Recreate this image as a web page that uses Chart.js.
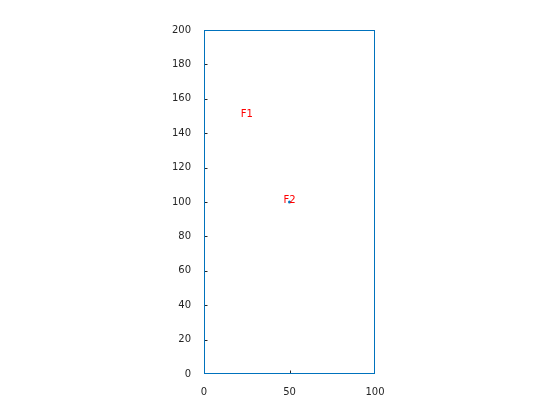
<!DOCTYPE html>
<html>
<head>
<meta charset="utf-8">
<script src="https://cdn.jsdelivr.net/npm/chart.js@4"></script>
<style>
  html, body { margin: 0; padding: 0; background: #fff; }
  #wrap { width: 560px; height: 420px; }
</style>
</head>
<body>
<div id="wrap"><canvas id="c1" width="560" height="420"></canvas></div>
<script>
"use strict";

// outline of the region, drawn as a line
let boxX = [0, 100, 100, 0, 0];
let boxY = [0, 0, 200, 200, 0];

// marked point
let ptX = [50];
let ptY = [100];

// text labels
let labNames = ['F1', 'F2'];
let labX = [21.5, 46.5];
let labY = [151, 101];

let xTicks = [0, 50, 100];
let yTicks = [0, 20, 40, 60, 80, 100, 120, 140, 160, 180, 200];

let fontName = '"DejaVu Sans", sans-serif';

// inside tick marks (left and bottom only), under the blue outline
let tickMarks = {
    id: 'tickMarks',
    beforeDatasetsDraw(chart) {
        let ctx = chart.ctx;
        let xs = chart.scales.x;
        let ys = chart.scales.y;
        let a = chart.chartArea;
        ctx.save();
        ctx.strokeStyle = '#262626';
        ctx.lineWidth = 1;
        ctx.beginPath();
        xTicks.forEach(v => {
            let px = Math.round(xs.getPixelForValue(v)) + 0.5;
            if (px < a.left + 2 || px > a.right - 2) return; // hidden by outline
            ctx.moveTo(px, a.bottom); ctx.lineTo(px, a.bottom - 3.5);
        });
        yTicks.forEach(v => {
            let py = Math.round(ys.getPixelForValue(v)) + 0.5;
            if (py < a.top + 2 || py > a.bottom - 2) return;
            ctx.moveTo(a.left, py); ctx.lineTo(a.left + 3.5, py);
        });
        ctx.stroke();
        ctx.restore();
    }
};

// red text labels
let labels = {
    id: 'labels',
    afterDatasetsDraw(chart) {
        let ctx = chart.ctx;
        let xs = chart.scales.x;
        let ys = chart.scales.y;
        ctx.save();
        ctx.fillStyle = '#ff0000';
        ctx.font = '10px ' + fontName;
        ctx.textAlign = 'left';
        ctx.textBaseline = 'middle';
        labNames.forEach((t, i) => {
            ctx.fillText(t, xs.getPixelForValue(labX[i]), ys.getPixelForValue(labY[i]));
        });
        ctx.restore();
    }
};

let opts = {
    type: 'scatter',
    data: {
        datasets: [
            {
                data: boxX.map((x, i) => ({x: x, y: boxY[i]})),
                showLine: true,
                borderColor: '#0072bd',
                borderWidth: 2,
                pointRadius: 0,
                fill: false,
            },
            {
                data: ptX.map((x, i) => ({x: x, y: ptY[i]})),
                backgroundColor: '#0072bd',
                borderColor: '#0072bd',
                pointRadius: 1.5,
                borderWidth: 0,
            },
        ],
    },
    options: {
        responsive: false,
        animation: false,
        layout: { padding: { left: 0, right: 185, top: 30, bottom: 0 } },
        plugins: { legend: { display: false }, tooltip: { enabled: false } },
        scales: {
            x: {
                type: 'linear', min: 0, max: 100,
                afterBuildTicks: s => { s.ticks = xTicks.map(v => ({value: v})); },
                afterFit: s => { s.height = 46; },
                grid: { display: false },
                border: { display: false },
                ticks: { color: '#262626', font: { family: fontName, size: 10 }, padding: 4, maxRotation: 0 },
            },
            y: {
                type: 'linear', min: 0, max: 200,
                afterBuildTicks: s => { s.ticks = yTicks.map(v => ({value: v})); },
                afterFit: s => { s.width = 204; },
                grid: { display: false },
                border: { display: false },
                ticks: { color: '#262626', font: { family: fontName, size: 10 }, padding: 5 },
            },
        },
    },
    plugins: [tickMarks, labels],
};

let chart1 = new Chart(document.querySelector('#c1'), opts);
</script>
</body>
</html>
